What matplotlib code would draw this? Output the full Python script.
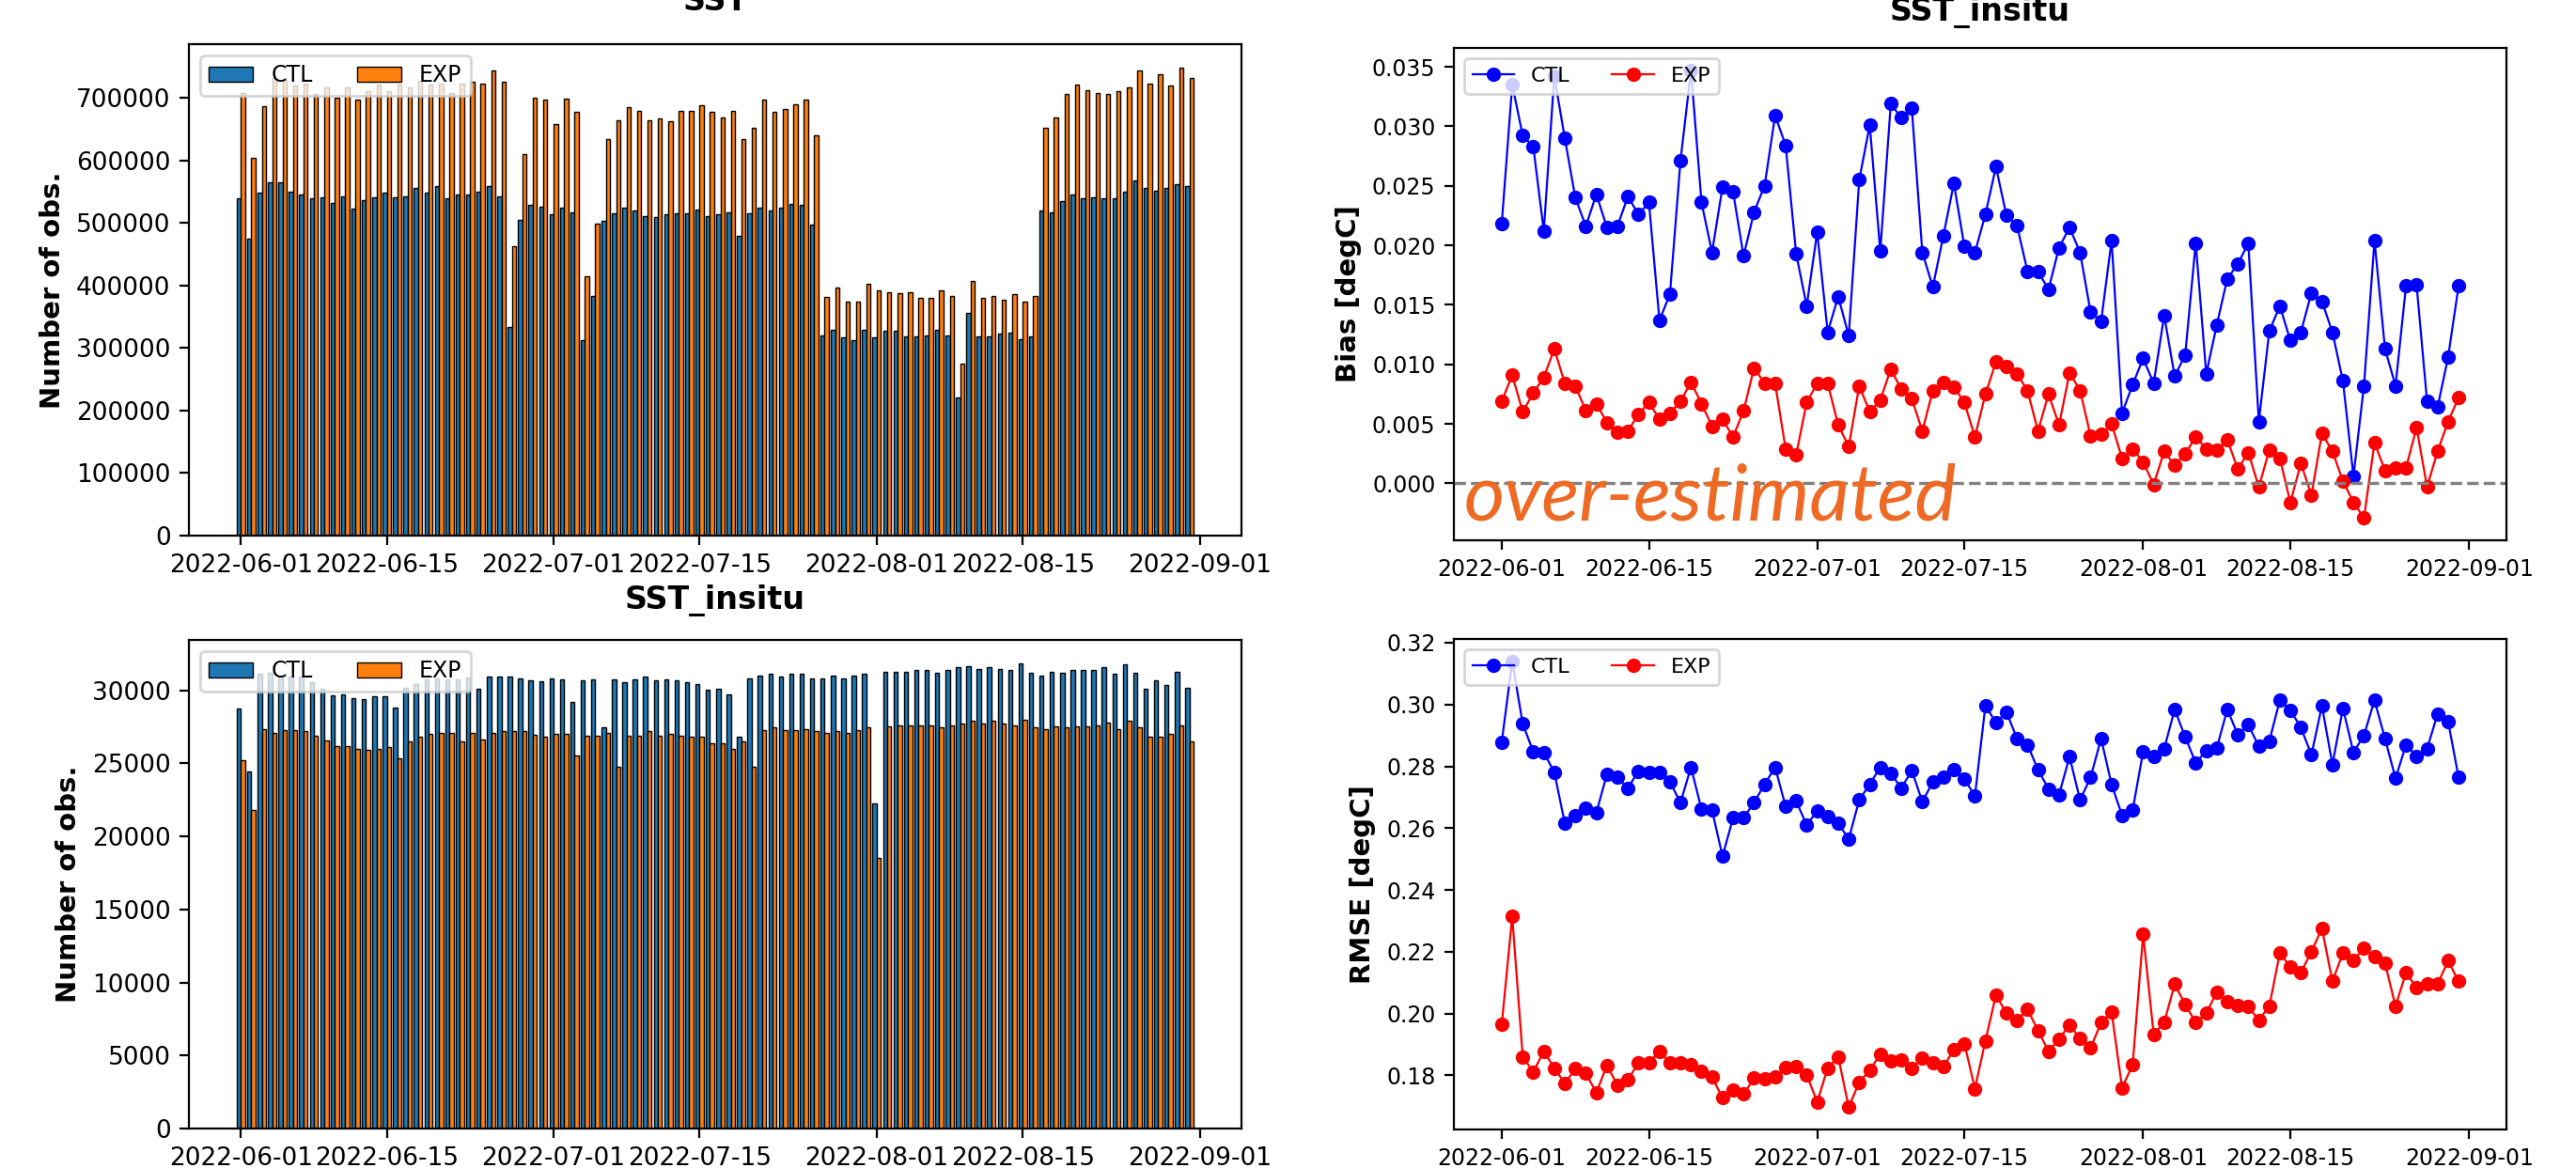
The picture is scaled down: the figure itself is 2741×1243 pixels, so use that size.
import numpy as np
import pandas as pd
import matplotlib
matplotlib.use("Agg")
import matplotlib.pyplot as plt
import matplotlib.dates as mdates

# ─── Data (daily, 2022-06-01 .. 2022-08-31) ───────────────────────────────────
dates = pd.date_range("2022-06-01", "2022-08-31", freq="D")

# SST: number of obs (thousands)
sst_ctl_k = [540, 475, 549, 565, 565, 550, 546, 540, 541, 533, 543, 523, 537, 541, 549, 541,
             543, 556, 549, 559, 540, 546, 546, 551, 559, 543, 334, 506, 529, 527, 514, 525,
             518, 313, 384, 503, 516, 525, 521, 512, 510, 514, 516, 516, 522, 512, 514, 518,
             479, 516, 525, 521, 525, 531, 529, 497, 321, 330, 317, 313, 330, 317, 328, 328,
             319, 319, 321, 330, 321, 221, 357, 319, 319, 323, 325, 315, 319, 521, 518, 536,
             546, 540, 542, 540, 540, 550, 569, 556, 552, 556, 563, 560]
sst_exp_k = [709, 604, 687, 733, 731, 721, 724, 707, 717, 701, 718, 697, 711, 722, 711, 722,
             718, 728, 722, 723, 708, 723, 726, 723, 745, 726, 463, 610, 701, 697, 659, 699,
             678, 415, 499, 635, 665, 686, 680, 665, 667, 663, 680, 680, 688, 678, 669, 680,
             634, 652, 698, 678, 682, 690, 698, 640, 382, 397, 375, 375, 403, 393, 390, 388,
             390, 380, 380, 393, 384, 275, 407, 380, 384, 378, 386, 375, 384, 652, 669, 707,
             722, 713, 709, 707, 711, 718, 745, 724, 738, 720, 749, 732]

# SST_insitu: number of obs
ins_ctl = [28730, 24470, 31110, 31170, 30950, 30910, 30910, 30520, 30080, 29650, 29740, 29470,
           29390, 29560, 29560, 28840, 30190, 30450, 30740, 30780, 30740, 30740, 30850, 30130,
           30910, 30910, 30910, 30820, 30650, 30590, 30820, 30740, 29190, 30650, 30740, 27470,
           30740, 30540, 30740, 30910, 30650, 30740, 30650, 30560, 30450, 30020, 30130, 29740,
           26820, 30820, 31000, 31110, 30910, 31110, 31110, 30820, 30820, 31000, 30820, 31000,
           31110, 22250, 31280, 31280, 31280, 31370, 31370, 31190, 31370, 31560, 31650, 31480,
           31560, 31480, 31370, 31850, 31190, 31000, 31280, 31190, 31370, 31370, 31370, 31560,
           31110, 31740, 31190, 30080, 30650, 30370, 31280, 30170]
ins_exp = [25190, 21810, 27360, 27100, 27250, 27250, 27190, 26880, 26540, 26170, 26170, 25990,
           25900, 25990, 26100, 25360, 26470, 26820, 26990, 27080, 27080, 26470, 27080, 26640,
           27080, 27190, 27190, 27190, 26930, 26820, 26990, 26990, 25560, 26900, 26900, 27080,
           24750, 26900, 26900, 27190, 26900, 26990, 26900, 26820, 26820, 26380, 26380, 25990,
           26470, 24750, 27250, 27430, 27250, 27250, 27340, 27190, 27100, 27190, 27100, 27250,
           27430, 18550, 27520, 27620, 27620, 27620, 27620, 27430, 27620, 27730, 27910, 27730,
           27910, 27730, 27620, 27990, 27430, 27340, 27520, 27430, 27520, 27520, 27620, 27800,
           27340, 27910, 27430, 26820, 26820, 26990, 27620, 26470]

# SST_insitu: bias [degC]
bias_ctl = [0.0218, 0.0335, 0.0292, 0.0283, 0.0212, 0.0342, 0.0290, 0.0240, 0.0216, 0.0243,
            0.0215, 0.0216, 0.0241, 0.0226, 0.0236, 0.0137, 0.0159, 0.0271, 0.0347, 0.0236,
            0.0194, 0.0249, 0.0245, 0.0191, 0.0228, 0.0250, 0.0309, 0.0284, 0.0193, 0.0149,
            0.0211, 0.0127, 0.0157, 0.0124, 0.0255, 0.0301, 0.0195, 0.0319, 0.0307, 0.0315,
            0.0194, 0.0165, 0.0208, 0.0252, 0.0199, 0.0194, 0.0226, 0.0266, 0.0225, 0.0217,
            0.0178, 0.0178, 0.0163, 0.0198, 0.0215, 0.0194, 0.0144, 0.0136, 0.0204, 0.0059,
            0.0083, 0.0105, 0.0084, 0.0141, 0.0090, 0.0108, 0.0202, 0.0092, 0.0133, 0.0172,
            0.0184, 0.0202, 0.0052, 0.0128, 0.0149, 0.0120, 0.0127, 0.0160, 0.0153, 0.0127,
            0.0086, 0.0006, 0.0082, 0.0204, 0.0113, 0.0082, 0.0166, 0.0167, 0.0069, 0.0064,
            0.0106, 0.0166]
bias_exp = [0.0069, 0.0091, 0.0060, 0.0076, 0.0089, 0.0113, 0.0084, 0.0082, 0.0061, 0.0067,
            0.0051, 0.0043, 0.0044, 0.0058, 0.0068, 0.0054, 0.0059, 0.0069, 0.0085, 0.0067,
            0.0048, 0.0054, 0.0039, 0.0061, 0.0097, 0.0084, 0.0084, 0.0029, 0.0024, 0.0068,
            0.0084, 0.0084, 0.0049, 0.0031, 0.0082, 0.0060, 0.0070, 0.0096, 0.0079, 0.0071,
            0.0044, 0.0078, 0.0085, 0.0081, 0.0068, 0.0039, 0.0075, 0.0102, 0.0098, 0.0092,
            0.0078, 0.0044, 0.0075, 0.0049, 0.0093, 0.0078, 0.0040, 0.0041, 0.0050, 0.0021,
            0.0029, 0.0018, -0.0001, 0.0027, 0.0015, 0.0025, 0.0039, 0.0029, 0.0028, 0.0037,
            0.0012, 0.0026, -0.0003, 0.0028, 0.0021, -0.0016, 0.0017, -0.0010, 0.0042, 0.0027,
            0.0002, -0.0016, -0.0029, 0.0034, 0.0011, 0.0013, 0.0013, 0.0047, -0.0003, 0.0027,
            0.0052, 0.0072]

# SST_insitu: RMSE [degC]
rmse_ctl = [0.2878, 0.3140, 0.2937, 0.2848, 0.2845, 0.2781, 0.2616, 0.2641, 0.2665, 0.2650,
            0.2774, 0.2764, 0.2730, 0.2784, 0.2781, 0.2781, 0.2749, 0.2683, 0.2797, 0.2661,
            0.2658, 0.2509, 0.2633, 0.2633, 0.2683, 0.2742, 0.2797, 0.2670, 0.2688, 0.2610,
            0.2656, 0.2636, 0.2615, 0.2565, 0.2691, 0.2742, 0.2797, 0.2777, 0.2730, 0.2786,
            0.2686, 0.2749, 0.2764, 0.2789, 0.2759, 0.2704, 0.2997, 0.2941, 0.2976, 0.2890,
            0.2870, 0.2789, 0.2727, 0.2708, 0.2831, 0.2691, 0.2764, 0.2890, 0.2741, 0.2641,
            0.2658, 0.2848, 0.2831, 0.2857, 0.2984, 0.2895, 0.2811, 0.2851, 0.2859, 0.2984,
            0.2903, 0.2934, 0.2865, 0.2882, 0.3014, 0.2981, 0.2926, 0.2837, 0.2996, 0.2806,
            0.2988, 0.2845, 0.2900, 0.3014, 0.2890, 0.2761, 0.2870, 0.2833, 0.2857, 0.2969,
            0.2946, 0.2764]
rmse_exp = [0.1964, 0.2314, 0.1860, 0.1811, 0.1878, 0.1824, 0.1774, 0.1821, 0.1806, 0.1744,
            0.1832, 0.1769, 0.1786, 0.1840, 0.1840, 0.1878, 0.1840, 0.1840, 0.1835, 0.1814,
            0.1794, 0.1727, 0.1754, 0.1739, 0.1791, 0.1789, 0.1794, 0.1827, 0.1829, 0.1802,
            0.1714, 0.1824, 0.1860, 0.1697, 0.1778, 0.1817, 0.1868, 0.1848, 0.1850, 0.1824,
            0.1856, 0.1840, 0.1829, 0.1882, 0.1903, 0.1757, 0.1912, 0.2060, 0.2001, 0.1979,
            0.2014, 0.1945, 0.1878, 0.1918, 0.1962, 0.1920, 0.1888, 0.1971, 0.2004, 0.1759,
            0.1835, 0.2256, 0.1933, 0.1971, 0.2095, 0.2029, 0.1971, 0.2001, 0.2069, 0.2037,
            0.2027, 0.2022, 0.1979, 0.2024, 0.2196, 0.2151, 0.2133, 0.2200, 0.2276, 0.2104,
            0.2196, 0.2171, 0.2213, 0.2183, 0.2163, 0.2024, 0.2133, 0.2083, 0.2095, 0.2095,
            0.2171, 0.2104]

# ─── Figure ───────────────────────────────────────────────────────────────────
W, H = 2741, 1243
DPI = 200
fig = plt.figure(figsize=(W / DPI, H / DPI), dpi=DPI)


def box(l, t, r, b):
    return [l / W, 1 - b / H, (r - l) / W, (b - t) / H]


def date_axis(ax, size):
    ax.xaxis.set_major_locator(mdates.DayLocator(bymonthday=[1, 15]))
    ax.xaxis.set_major_formatter(mdates.DateFormatter("%Y-%m-%d"))
    ax.tick_params(labelsize=size)


x = mdates.date2num(dates)


def count_panel(ax, ctl, exp, title, pad):
    ax.bar(x - 0.2, ctl, width=0.4, color="#1f77b4", edgecolor="black", lw=0.5, label="CTL")
    ax.bar(x + 0.2, exp, width=0.4, color="#ff7f0e", edgecolor="black", lw=0.5, label="EXP")
    ax.xaxis_date()
    date_axis(ax, 9.5)
    ax.set_ylabel("Number of obs.", fontsize=10.5, fontweight="bold")
    ax.set_title(title, fontsize=12, fontweight="bold", pad=pad)
    ax.legend(loc="upper left", ncol=2, fontsize=8.5)


def line_panel(ax, ctl, exp, ylabel):
    ax.plot(dates, ctl, "b-o", lw=0.8, ms=4.5, label="CTL")
    ax.plot(dates, exp, "r-o", lw=0.8, ms=4.5, label="EXP")
    date_axis(ax, 8.5)
    ax.set_ylabel(ylabel, fontsize=10.5, fontweight="bold")
    ax.legend(loc="upper left", ncol=2, fontsize=8)


ax1 = fig.add_axes(box(201, 47, 1321, 570))
count_panel(ax1, np.array(sst_ctl_k) * 1000, np.array(sst_exp_k) * 1000, "SST", 13)

ax3 = fig.add_axes(box(201, 681, 1321, 1201))
count_panel(ax3, ins_ctl, ins_exp, "SST_insitu", 12)

ax2 = fig.add_axes(box(1547, 51, 2667, 575))
line_panel(ax2, bias_ctl, bias_exp, "Bias [degC]")
ax2.axhline(0, color="gray", ls="--", lw=1.2)
ax2.set_title("SST_insitu", fontsize=12, fontweight="bold", pad=10.5)

ax4 = fig.add_axes(box(1547, 680, 2667, 1202))
line_panel(ax4, rmse_ctl, rmse_exp, "RMSE [degC]")

fig.text(1558 / W, 1 - 553 / H, "over-estimated", family="Lato", style="italic",
         fontsize=30, color="#EE6A24", va="baseline", ha="left")

fig.savefig("out.png", dpi=DPI, facecolor="white")
